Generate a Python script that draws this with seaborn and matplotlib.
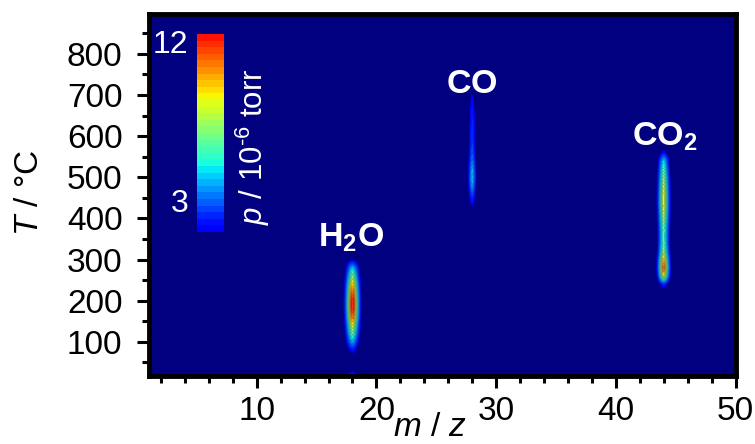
import numpy as np
import matplotlib
matplotlib.use("Agg")
import matplotlib.pyplot as plt
from matplotlib.colors import ListedColormap
from matplotlib.ticker import MultipleLocator
import seaborn as sns

# ---------------------------------------------------------------------------
# Data: partial pressures (10^-6 torr) of the three desorbing species,
# recorded along the temperature ramp at their parent mass channel.
# ---------------------------------------------------------------------------
temperature = list(range(20, 901, 20))          # °C

species = ["H2O", "CO", "CO2"]
species_mz = [18, 28, 44]
peak_sigma = [0.35, 0.22, 0.30]                 # mass-peak width (m/z units)

p_h2o = [1.8, 0.3, 0.4, 1.6, 3.9, 6.3, 8.4, 10.6, 11.9, 12.0,
         10.9, 9.3, 6.9, 4.5, 1.0, 0.2, 0, 0, 0, 0,
         0, 0, 0, 0, 0, 0, 0, 0, 0, 0,
         0, 0, 0, 0, 0, 0, 0, 0, 0, 0,
         0, 0, 0, 0, 0]

p_co = [0, 0, 0, 0, 0, 0, 0, 0, 0, 0,
        0, 0, 0, 0, 0, 0, 0, 0, 0, 0,
        0.6, 1.6, 2.6, 3.8, 4.4, 4.0, 3.2, 2.7, 2.4, 2.2,
        2.1, 2.0, 1.8, 1.5, 1.25, 0.4, 0, 0, 0, 0,
        0, 0, 0, 0, 0]

p_co2 = [0, 0, 0, 0, 0, 0, 0, 0, 0, 0,
         0.0, 2.0, 8.5, 11.0, 9.5, 7.0, 6.0, 5.8, 6.3, 7.2,
         8.1, 8.6, 8.4, 7.7, 6.8, 5.8, 4.6, 1.5, 0.3, 0,
         0, 0, 0, 0, 0, 0, 0, 0, 0, 0,
         0, 0, 0, 0, 0]

profiles = [p_h2o, p_co, p_co2]
labels = ["$\\mathbf{H_2O}$", "$\\mathbf{CO}$", "$\\mathbf{CO_2}$"]
cbar_ticks = [3, 12]
x_ticks = [10, 20, 30, 40, 50]
y_ticks = [100, 200, 300, 400, 500, 600, 700, 800]

# ---------------------------------------------------------------------------
# Build the (T, m/z) pressure map from the mass-channel profiles
# ---------------------------------------------------------------------------
mz = np.linspace(1, 50, 981)
T = np.asarray(temperature, dtype=float)
field = np.zeros((T.size, mz.size))
for center, sigma, prof in zip(species_mz, peak_sigma, profiles):
    line = np.exp(-0.5 * ((mz - center) / sigma) ** 2)
    field += np.outer(np.asarray(prof, dtype=float), line)

# ---------------------------------------------------------------------------
# Style
# ---------------------------------------------------------------------------
sns.set_theme(style="ticks")
plt.rcParams["font.family"] = ["Liberation Sans", "DejaVu Sans"]
plt.rcParams["mathtext.fontset"] = "custom"
plt.rcParams["mathtext.rm"] = "Liberation Sans"
plt.rcParams["mathtext.it"] = "Liberation Sans:italic"
plt.rcParams["mathtext.bf"] = "Liberation Sans:bold"

n_bands = 30
levels = np.linspace(1.2, 12.4, n_bands + 1)
jet = plt.get_cmap("jet")
band_cmap = ListedColormap(jet(np.linspace(0.11, 0.89, n_bands)))

fig = plt.figure(figsize=(7.55, 4.44), dpi=100)
ax = fig.add_axes([149 / 755, 1 - 376 / 444, (735.5 - 149) / 755, (376 - 14) / 444])
ax.set_facecolor("#000080")

cf = ax.contourf(mz, T, field, levels=levels, cmap=band_cmap, antialiased=True)

ax.set_xlim(1, 50)
ax.set_ylim(17, 897)
ax.set_xticks(x_ticks)
ax.set_yticks(y_ticks)
ax.xaxis.set_minor_locator(MultipleLocator(2))
ax.yaxis.set_minor_locator(MultipleLocator(50))
ax.tick_params(which="both", direction="out", color="black",
               top=False, right=False, labelsize=24, labelcolor="black")
ax.tick_params(which="major", length=8.6, width=2.2)
ax.tick_params(which="minor", length=5, width=2.2)
ax.tick_params(axis="y", which="major", pad=10.5)
ax.tick_params(axis="x", which="major", pad=6)
for side in ["left", "right", "top", "bottom"]:
    ax.spines[side].set_visible(True)
    ax.spines[side].set_linewidth(3.5)
    ax.spines[side].set_color("black")
ax.grid(False)

# species labels above each desorption feature
label_anchor = [(17.9, 332), (28.0, 705), (44.1, 578)]
for (x, y), text in zip(label_anchor, labels):
    ax.text(x, y, text, color="white", fontsize=24.5, ha="center", va="baseline")

# axis titles
fig.text(30 / 755, 1 - 193 / 444, "$T$ / °C", rotation=90, fontsize=24,
         ha="center", va="center", color="black")
fig.text(430 / 755, 8.5 / 444, "$m$ / $z$", fontsize=24,
         ha="center", va="baseline", color="black")

# colour scale placed inside the plot area
cax = fig.add_axes([197 / 755, 1 - 232 / 444, 27 / 755, 198 / 444])
cb = fig.colorbar(cf, cax=cax, ticks=cbar_ticks)
cb.outline.set_visible(False)
cax.yaxis.set_ticks_position("left")
cax.yaxis.set_label_position("left")
cax.minorticks_off()
cax.tick_params(length=0, labelsize=23, labelcolor="white", pad=6)
fig.text(253 / 755, 1 - 147 / 444, "$p$ / 10$^{\\text{-6}}$ torr", rotation=90,
         fontsize=22.5, color="white", ha="center", va="center")

fig.savefig("out.png", dpi=100)
